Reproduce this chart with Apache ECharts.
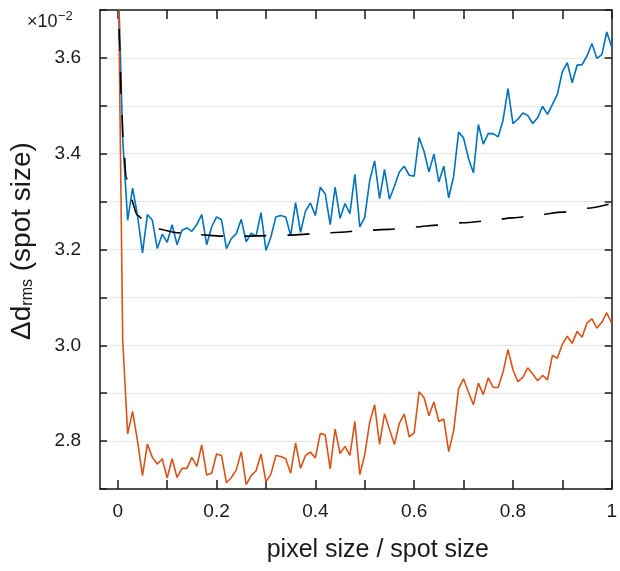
<!DOCTYPE html>
<html>
<head>
<meta charset="utf-8">
<script src="https://cdn.jsdelivr.net/npm/echarts@6/dist/echarts.min.js"></script>
<style>
  html, body { margin: 0; padding: 0; background: #fff; }
  #chart { width: 620px; height: 571px; }
</style>
</head>
<body>
<div id="chart"></div>
<script>
// pixel size / spot size, sampled every 0.01
const pixelRatio = [
  0.00, 0.01, 0.02, 0.03, 0.04, 0.05, 0.06, 0.07, 0.08, 0.09,
  0.10, 0.11, 0.12, 0.13, 0.14, 0.15, 0.16, 0.17, 0.18, 0.19,
  0.20, 0.21, 0.22, 0.23, 0.24, 0.25, 0.26, 0.27, 0.28, 0.29,
  0.30, 0.31, 0.32, 0.33, 0.34, 0.35, 0.36, 0.37, 0.38, 0.39,
  0.40, 0.41, 0.42, 0.43, 0.44, 0.45, 0.46, 0.47, 0.48, 0.49,
  0.50, 0.51, 0.52, 0.53, 0.54, 0.55, 0.56, 0.57, 0.58, 0.59,
  0.60, 0.61, 0.62, 0.63, 0.64, 0.65, 0.66, 0.67, 0.68, 0.69,
  0.70, 0.71, 0.72, 0.73, 0.74, 0.75, 0.76, 0.77, 0.78, 0.79,
  0.80, 0.81, 0.82, 0.83, 0.84, 0.85, 0.86, 0.87, 0.88, 0.89,
  0.90, 0.91, 0.92, 0.93, 0.94, 0.95, 0.96, 0.97, 0.98, 0.99,
  1.00
];

// rms displacement in units of 1e-2 spot size (upper curve)
const upperRms = [
  3.80, 3.43, 3.261, 3.328, 3.271, 3.193, 3.273, 3.261, 3.202, 3.232,
  3.215, 3.252, 3.210, 3.240, 3.245, 3.238, 3.252, 3.273, 3.210, 3.247,
  3.268, 3.262, 3.202, 3.223, 3.233, 3.263, 3.216, 3.234, 3.228, 3.277,
  3.198, 3.226, 3.268, 3.271, 3.268, 3.229, 3.298, 3.236, 3.280, 3.297,
  3.271, 3.330, 3.316, 3.252, 3.330, 3.265, 3.296, 3.275, 3.357, 3.247,
  3.267, 3.344, 3.385, 3.306, 3.367, 3.305, 3.332, 3.362, 3.374, 3.355,
  3.353, 3.434, 3.405, 3.362, 3.399, 3.341, 3.374, 3.308, 3.353, 3.445,
  3.433, 3.390, 3.360, 3.461, 3.420, 3.442, 3.442, 3.435, 3.470, 3.536,
  3.463, 3.472, 3.485, 3.480, 3.463, 3.475, 3.499, 3.482, 3.503, 3.524,
  3.571, 3.590, 3.548, 3.585, 3.586, 3.604, 3.630, 3.599, 3.607, 3.654,
  3.623
];

// rms displacement in units of 1e-2 spot size (lower curve)
const lowerRms = [
  3.87, 3.010, 2.815, 2.862, 2.800, 2.728, 2.794, 2.766, 2.752, 2.763,
  2.723, 2.763, 2.724, 2.743, 2.743, 2.766, 2.747, 2.792, 2.729, 2.733,
  2.773, 2.770, 2.713, 2.724, 2.740, 2.778, 2.709, 2.728, 2.738, 2.773,
  2.715, 2.731, 2.770, 2.768, 2.763, 2.733, 2.796, 2.743, 2.770, 2.777,
  2.765, 2.816, 2.813, 2.742, 2.825, 2.774, 2.789, 2.770, 2.841, 2.730,
  2.772, 2.839, 2.876, 2.793, 2.857, 2.825, 2.793, 2.837, 2.857, 2.809,
  2.817, 2.903, 2.891, 2.853, 2.882, 2.841, 2.846, 2.778, 2.822, 2.909,
  2.930, 2.902, 2.876, 2.921, 2.897, 2.932, 2.912, 2.912, 2.944, 2.991,
  2.949, 2.924, 2.933, 2.953, 2.940, 2.926, 2.937, 2.928, 2.979, 2.973,
  3.002, 3.019, 3.004, 3.029, 3.017, 3.047, 3.055, 3.036, 3.048, 3.068,
  3.046
];

// smooth model curve (dashed)
const modelX = [
  0.001, 0.004, 0.007, 0.011, 0.017, 0.025, 0.04, 0.06, 0.08, 0.12,
  0.16, 0.21, 0.26, 0.30, 0.35, 0.40, 0.45, 0.50, 0.55, 0.60,
  0.65, 0.70, 0.75, 0.80, 0.85, 0.90, 0.95, 1.00
];
const modelY = [
  3.75, 3.62, 3.52, 3.43, 3.35, 3.31, 3.271, 3.252, 3.243, 3.235,
  3.231, 3.228, 3.228, 3.229, 3.230, 3.233, 3.236, 3.240, 3.242, 3.247,
  3.251, 3.256, 3.260, 3.266, 3.272, 3.278, 3.286, 3.296
];

// axis ticks and labels
const xTicks = [0, 0.1, 0.2, 0.3, 0.4, 0.5, 0.6, 0.7, 0.8, 0.9, 1];
const xTickLabels = ['0', '0.2', '0.4', '0.6', '0.8', '1'];
const yTicks = [2.7, 2.8, 2.9, 3.0, 3.1, 3.2, 3.3, 3.4, 3.5, 3.6, 3.7];
const yTickLabels = ['2.8', '3.0', '3.2', '3.4', '3.6'];

const FONT = 'Liberation Sans';
const INK = '#1a1a1a';
const BLUE = '#0072BD';
const ORANGE = '#D95319';

const zip = (xs, ys) => xs.map((x, i) => [x, ys[i]]);

const frameAxis = {
  axisLine: { show: true, onZero: false, lineStyle: { color: INK, width: 1.5 } },
  splitLine: { show: false }
};

const chart = echarts.init(document.getElementById('chart'), null, { renderer: 'canvas' });

chart.setOption({
  animation: false,
  backgroundColor: '#ffffff',
  textStyle: { fontFamily: FONT },
  grid: { left: 99, right: 5, top: 10, bottom: 82, containLabel: false },
  xAxis: [
    Object.assign({}, frameAxis, {
      type: 'value', position: 'bottom', min: -0.036, max: 1,
      axisTick: { show: true, inside: true, length: 9, lineStyle: { color: INK, width: 1.5 }, customValues: xTicks },
      axisLabel: {
        show: true, margin: 13, fontSize: 19, color: INK, fontFamily: FONT,
        customValues: xTickLabels.map(Number),
        formatter: v => xTickLabels.find(s => Math.abs(Number(s) - v) < 1e-9) || ''
      },
      name: 'pixel size / spot size', nameLocation: 'middle', nameGap: 49,
      nameTextStyle: { fontSize: 25, color: INK, fontFamily: FONT, padding: [0, 0, 0, 44] }
    }),
    Object.assign({}, frameAxis, {
      type: 'value', position: 'top', min: -0.036, max: 1,
      axisTick: { show: true, inside: true, length: 9, lineStyle: { color: INK, width: 1.5 }, customValues: xTicks },
      axisLabel: { show: false }
    })
  ],
  yAxis: [
    Object.assign({}, frameAxis, {
      type: 'value', position: 'left', min: 2.7, max: 3.7, interval: 0.1,
      splitLine: { show: true, lineStyle: { color: '#e6e6e6', width: 1.2 } },
      axisTick: { show: true, inside: true, length: 7, lineStyle: { color: INK, width: 1.5 }, customValues: yTicks },
      axisLabel: {
        show: true, margin: 19, fontSize: 19, color: INK, fontFamily: FONT,
        customValues: yTickLabels.map(Number),
        formatter: v => yTickLabels.find(s => Math.abs(Number(s) - v) < 1e-9) || ''
      },
      name: '{a|Δd}{sub|rms}{a| (spot size)}', nameLocation: 'middle', nameGap: 64, nameRotate: 90,
      nameTextStyle: {
        color: INK, fontFamily: FONT, padding: [0, 0, 0, 17],
        rich: {
          a: { fontSize: 28, color: INK, fontFamily: FONT, lineHeight: 30, verticalAlign: 'bottom' },
          sub: { fontSize: 16, color: INK, fontFamily: FONT, lineHeight: 26, verticalAlign: 'bottom' }
        }
      }
    }),
    Object.assign({}, frameAxis, {
      type: 'value', position: 'right', min: 2.7, max: 3.7, interval: 0.1,
      axisTick: { show: true, inside: true, length: 7, lineStyle: { color: INK, width: 1.5 }, customValues: yTicks },
      axisLabel: { show: false }
    })
  ],
  graphic: [
    {
      type: 'text', left: 27, top: 13,
      style: { text: '×10', fontSize: 18, fill: INK, fontFamily: FONT }
    },
    {
      type: 'text', left: 58, top: 10,
      style: { text: '−2', fontSize: 13, fill: INK, fontFamily: FONT }
    }
  ],
  series: [
    {
      name: 'upper', type: 'line', xAxisIndex: 0, yAxisIndex: 0,
      data: zip(pixelRatio, upperRms), showSymbol: false, clip: true,
      lineStyle: { color: BLUE, width: 1.6 }, z: 3
    },
    {
      name: 'lower', type: 'line', xAxisIndex: 0, yAxisIndex: 0,
      data: zip(pixelRatio, lowerRms), showSymbol: false, clip: true,
      lineStyle: { color: ORANGE, width: 1.6 }, z: 3
    },
    {
      name: 'model', type: 'line', xAxisIndex: 0, yAxisIndex: 0,
      data: zip(modelX, modelY), showSymbol: false, clip: true,
      smooth: 0.3, smoothMonotone: 'x',
      lineStyle: { color: '#000', width: 1.6, type: [22, 21] }, z: 4
    }
  ]
});
</script>
</body>
</html>
